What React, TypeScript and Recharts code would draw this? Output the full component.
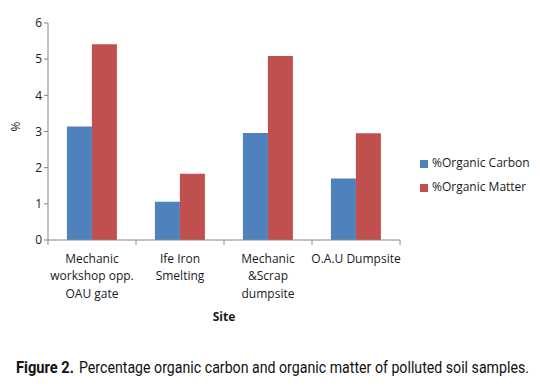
import { Bar, BarChart, Legend, XAxis, YAxis, Label } from "recharts";

const sites = [
  "Mechanic workshop opp. OAU gate",
  "Ife Iron Smelting",
  "Mechanic &Scrap dumpsite",
  "O.A.U Dumpsite",
];
const siteLines = [
  ["Mechanic", "workshop opp.", "OAU gate"],
  ["Ife Iron", "Smelting"],
  ["Mechanic", "&Scrap", "dumpsite"],
  ["O.A.U Dumpsite"],
];
const organicCarbon = [3.14, 1.06, 2.96, 1.7];
const organicMatter = [5.41, 1.83, 5.09, 2.95];
const yTicks = [0, 1, 2, 3, 4, 5, 6];

const data = sites.map((site, i) => ({
  site,
  carbon: organicCarbon[i],
  matter: organicMatter[i],
}));

const FONT = "'Open Sans', sans-serif";
const AXIS = "#868686";

const W = 540;
const H = 330;
const LEGEND_W = 120;
// legend sits on the right and takes its width from the plot
const M = { top: 23, right: 140 - LEGEND_W, left: 8, bottom: 5 };
const Y_W = 40;
const PLOT_W = W - M.left - (M.right + LEGEND_W) - Y_W;
const BAND = PLOT_W / sites.length;

// caption font is a condensed grotesque, squeeze Roboto to match
const SQ = 0.84;

function SiteTick(props: any) {
  const { x, y, payload, index } = props;
  const lines = siteLines[index] ?? [String(payload.value)];
  const half = BAND / 2;
  return (
    <g>
      <line x1={x - half} y1={y - 8} x2={x - half} y2={y - 3} stroke={AXIS} />
      {index === sites.length - 1 && (
        <line x1={x + half} y1={y - 8} x2={x + half} y2={y - 3} stroke={AXIS} />
      )}
      <text
        x={x}
        y={y}
        textAnchor="middle"
        fill="#1a1a1a"
        fontSize={12}
        fontFamily={FONT}
      >
        {lines.map((l, i) => (
          <tspan key={i} x={x} dy={i === 0 ? 15 : 17.3}>
            {l}
          </tspan>
        ))}
      </text>
    </g>
  );
}

export default function App() {
  return (
    <div
      style={{
        position: "absolute",
        left: 0,
        top: 0,
        width: 540,
        height: 389,
        background: "#fff",
      }}
    >
      <BarChart
        width={W}
        height={H}
        data={data}
        margin={M}
        barCategoryGap="21.5%"
        barGap={0}
      >
        <YAxis
          width={Y_W}
          domain={[0, 6]}
          ticks={yTicks}
          interval={0}
          tick={{ fontSize: 12, fill: "#1a1a1a", fontFamily: FONT }}
          tickSize={4}
          stroke={AXIS}
          axisLine={{ stroke: AXIS }}
          tickLine={{ stroke: AXIS }}
        >
          <Label
            value="%"
            angle={-90}
            position="insideLeft"
            offset={8}
            style={{ fontSize: 12, fill: "#1a1a1a", fontFamily: FONT }}
          />
        </YAxis>
        <XAxis
          dataKey="site"
          height={85}
          interval={0}
          tickLine={false}
          axisLine={{ stroke: AXIS }}
          tick={<SiteTick />}
        >
          <Label
            value="Site"
            position="insideBottom"
            offset={4}
            style={{
              fontSize: 12,
              fontWeight: 700,
              fill: "#1a1a1a",
              fontFamily: FONT,
            }}
          />
        </XAxis>
        <Legend
          layout="vertical"
          align="right"
          verticalAlign="middle"
          iconType="square"
          iconSize={8}
          wrapperStyle={{
            position: "absolute",
            left: 420,
            top: 151,
            width: LEGEND_W,
            fontFamily: FONT,
            fontSize: 12,
            lineHeight: "24px",
          }}
          formatter={(v: string) => <span style={{ color: "#1a1a1a" }}>{v}</span>}
        />
        <Bar
          dataKey="carbon"
          name="%Organic Carbon"
          fill="#4F81BD"
          isAnimationActive={false}
        />
        <Bar
          dataKey="matter"
          name="%Organic Matter"
          fill="#C0504D"
          isAnimationActive={false}
        />
      </BarChart>
      <svg
        width={540}
        height={59}
        style={{ position: "absolute", left: 0, top: 330 }}
      >
        <g transform={`scale(${SQ},1)`}>
          <text
            x={16 / SQ}
            y={43}
            fontFamily="Roboto, sans-serif"
            fontSize={17}
            fontWeight={700}
            fill="#111"
            textLength={58 / SQ}
            lengthAdjust="spacingAndGlyphs"
          >
            Figure 2.
          </text>
          <text
            x={79 / SQ}
            y={43}
            fontFamily="Roboto, sans-serif"
            fontSize={17}
            fill="#111"
            textLength={450 / SQ}
            lengthAdjust="spacingAndGlyphs"
          >
            Percentage organic carbon and organic matter of polluted soil samples.
          </text>
        </g>
      </svg>
    </div>
  );
}
